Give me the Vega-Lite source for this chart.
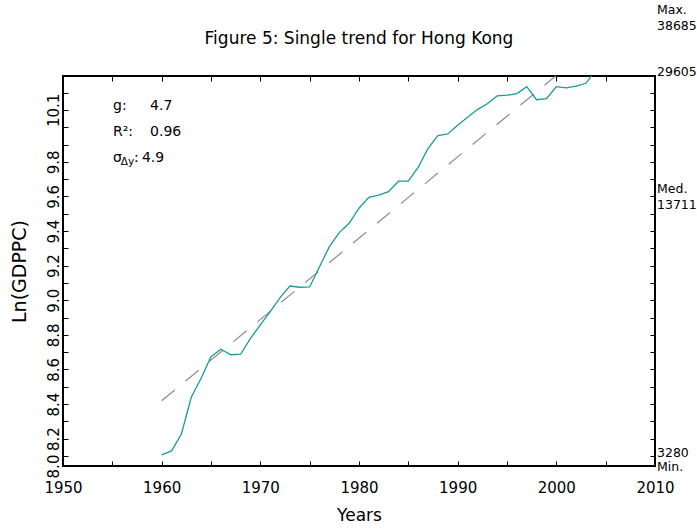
{
  "$schema": "https://vega.github.io/schema/vega-lite/v6.json",
  "width": 592,
  "height": 390,
  "autosize": {"type": "none"},
  "padding": {"left": 63, "top": 76, "right": 42, "bottom": 63},
  "background": "white",
  "title": {
    "text": "Figure 5: Single trend for Hong Kong",
    "font": "DejaVu Sans",
    "fontSize": 17,
    "fontWeight": "normal",
    "color": "black",
    "anchor": "middle",
    "frame": "group",
    "baseline": "alphabetic",
    "offset": 0,
    "dy": 57
  },
  "config": {
    "view": {"stroke": "black", "strokeWidth": 2},
    "axis": {"grid": false, "domain": false, "tickColor": "black", "tickWidth": 1, "labelColor": "black", "titleColor": "black", "labelFont": "DejaVu Sans", "titleFont": "DejaVu Sans", "titleFontWeight": "normal", "labelOverlap": false, "labelFlush": false, "labelBound": false},
    "text": {"font": "DejaVu Sans", "color": "black"}
  },
  "datasets": {
    "hk": [
      {"year": 1960, "lny": 8.106}, {"year": 1961, "lny": 8.129}, {"year": 1962, "lny": 8.227},
      {"year": 1963, "lny": 8.439}, {"year": 1964, "lny": 8.549}, {"year": 1965, "lny": 8.674},
      {"year": 1966, "lny": 8.717}, {"year": 1967, "lny": 8.685}, {"year": 1968, "lny": 8.688},
      {"year": 1969, "lny": 8.780}, {"year": 1970, "lny": 8.857}, {"year": 1971, "lny": 8.934},
      {"year": 1972, "lny": 9.015}, {"year": 1973, "lny": 9.082}, {"year": 1974, "lny": 9.075},
      {"year": 1975, "lny": 9.077}, {"year": 1976, "lny": 9.194}, {"year": 1977, "lny": 9.310},
      {"year": 1978, "lny": 9.391}, {"year": 1979, "lny": 9.445}, {"year": 1980, "lny": 9.532},
      {"year": 1981, "lny": 9.595}, {"year": 1982, "lny": 9.607}, {"year": 1983, "lny": 9.628},
      {"year": 1984, "lny": 9.688}, {"year": 1985, "lny": 9.688}, {"year": 1986, "lny": 9.769},
      {"year": 1987, "lny": 9.878}, {"year": 1988, "lny": 9.951}, {"year": 1989, "lny": 9.961},
      {"year": 1990, "lny": 10.011}, {"year": 1991, "lny": 10.058}, {"year": 1992, "lny": 10.102},
      {"year": 1993, "lny": 10.136}, {"year": 1994, "lny": 10.181}, {"year": 1995, "lny": 10.185},
      {"year": 1996, "lny": 10.194}, {"year": 1997, "lny": 10.234}, {"year": 1998, "lny": 10.159},
      {"year": 1999, "lny": 10.165}, {"year": 2000, "lny": 10.234}, {"year": 2001, "lny": 10.227},
      {"year": 2002, "lny": 10.237}, {"year": 2003, "lny": 10.254}, {"year": 2004, "lny": 10.33},
      {"year": 2005, "lny": 10.40}
    ],
    "trend": [
      {"year": 1960, "lny": 8.419},
      {"year": 2000, "lny": 10.299}
    ],
    "side": [
      {"lny": 10.563, "num": "38685", "name": "Max.", "pos": "above"},
      {"lny": 10.296, "num": "29605", "name": "", "pos": "none"},
      {"lny": 9.526, "num": "13711", "name": "Med.", "pos": "above"},
      {"lny": 8.096, "num": "3280", "name": "Min.", "pos": "below"}
    ],
    "notes": [
      {"year": 1955.07, "lny": 10.125, "t": "g:"},
      {"year": 1958.82, "lny": 10.125, "t": "4.7"},
      {"year": 1955.07, "lny": 9.97, "t": "R²:"},
      {"year": 1958.82, "lny": 9.97, "t": "0.96"},
      {"year": 1955.07, "lny": 9.82, "t": "σ"},
      {"year": 1957.2, "lny": 9.82, "t": ":"},
      {"year": 1958.0, "lny": 9.82, "t": "4.9"}
    ],
    "subs": [
      {"year": 1955.85, "lny": 9.797, "t": "Δy"}
    ]
  },
  "resolve": {"axis": {"x": "independent", "y": "independent"}},
  "layer": [
    {
      "data": {"name": "trend"},
      "mark": {"type": "line", "color": "#8c8c8c", "strokeWidth": 1.2, "strokeDash": [17, 14], "clip": true},
      "encoding": {
        "x": {
          "field": "year", "type": "quantitative",
          "scale": {"domain": [1950, 2010], "nice": false, "zero": false},
          "axis": {
            "orient": "bottom",
            "values": [1950, 1955, 1960, 1965, 1970, 1975, 1980, 1985, 1990, 1995, 2000, 2005, 2010],
            "tickSize": -5,
            "format": "d",
            "labelExpr": "datum.value % 10 == 0 ? datum.label : ''",
            "labelFontSize": 15,
            "labelPadding": 19,
            "title": "Years",
            "titleFontSize": 17,
            "titlePadding": 12
          }
        },
        "y": {
          "field": "lny", "type": "quantitative",
          "scale": {"domain": [8.042, 10.296], "nice": false, "zero": false},
          "axis": {
            "orient": "left",
            "values": [8.042, 8.1, 8.2, 8.3, 8.4, 8.5, 8.6, 8.7, 8.8, 8.9, 9.0, 9.1, 9.2, 9.3, 9.4, 9.5, 9.6, 9.7, 9.8, 9.9, 10.0, 10.1, 10.2],
            "tickSize": -5,
            "labelExpr": "indexof(['8.04','8.20','8.40','8.60','8.80','9.00','9.20','9.40','9.60','9.80','10.10'], format(datum.value, '.2f')) >= 0 ? (datum.value < 8.1 ? '8.0' : format(datum.value, '.1f')) : ''",
            "labelAngle": -90,
            "labelAlign": "center",
            "labelBaseline": "alphabetic",
            "labelFontSize": 15,
            "labelPadding": 10,
            "title": "Ln(GDPPC)",
            "titleFontSize": 19,
            "titlePadding": 17
          }
        }
      }
    },
    {
      "data": {"name": "hk"},
      "mark": {"type": "line", "color": "#1b9a9a", "strokeWidth": 1.3, "clip": true},
      "encoding": {
        "x": {
          "field": "year", "type": "quantitative",
          "axis": {
            "orient": "top",
            "values": [1955, 1960, 1965, 1970, 1975, 1980, 1985, 1990, 1995, 2000, 2005],
            "tickSize": -5,
            "labels": false,
            "title": null
          }
        },
        "y": {
          "field": "lny", "type": "quantitative",
          "axis": {
            "orient": "right",
            "values": [8.1, 8.2, 8.3, 8.4, 8.5, 8.6, 8.7, 8.8, 8.9, 9.0, 9.1, 9.2, 9.3, 9.4, 9.5, 9.6, 9.7, 9.8, 9.9, 10.0, 10.1, 10.2],
            "tickSize": -5,
            "labels": false,
            "title": null
          }
        }
      }
    },
    {
      "data": {"name": "side"},
      "mark": {"type": "text", "align": "left", "baseline": "alphabetic", "dx": 2, "fontSize": 12.5, "clip": false},
      "encoding": {
        "x": {"datum": 2010, "type": "quantitative", "axis": null},
        "y": {"field": "lny", "type": "quantitative", "axis": null},
        "text": {"field": "num"}
      }
    },
    {
      "data": {"name": "side"},
      "transform": [{"filter": "datum.pos == 'above'"}],
      "mark": {"type": "text", "align": "left", "baseline": "alphabetic", "dx": 2, "dy": -16, "fontSize": 12.5, "clip": false},
      "encoding": {
        "x": {"datum": 2010, "type": "quantitative", "axis": null},
        "y": {"field": "lny", "type": "quantitative", "axis": null},
        "text": {"field": "name"}
      }
    },
    {
      "data": {"name": "side"},
      "transform": [{"filter": "datum.pos == 'below'"}],
      "mark": {"type": "text", "align": "left", "baseline": "alphabetic", "dx": 2, "dy": 14, "fontSize": 12.5, "clip": false},
      "encoding": {
        "x": {"datum": 2010, "type": "quantitative", "axis": null},
        "y": {"field": "lny", "type": "quantitative", "axis": null},
        "text": {"field": "name"}
      }
    },
    {
      "data": {"name": "notes"},
      "mark": {"type": "text", "align": "left", "baseline": "middle", "fontSize": 14},
      "encoding": {
        "x": {"field": "year", "type": "quantitative", "axis": null},
        "y": {"field": "lny", "type": "quantitative", "axis": null},
        "text": {"field": "t"}
      }
    },
    {
      "data": {"name": "subs"},
      "mark": {"type": "text", "align": "left", "baseline": "middle", "fontSize": 10.5},
      "encoding": {
        "x": {"field": "year", "type": "quantitative", "axis": null},
        "y": {"field": "lny", "type": "quantitative", "axis": null},
        "text": {"field": "t"}
      }
    }
  ]
}
